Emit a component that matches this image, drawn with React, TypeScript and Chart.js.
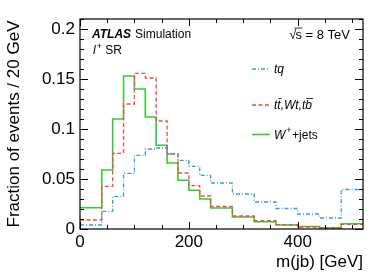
import React, { useEffect, useRef } from 'react';
import { Chart, registerables } from 'chart.js';
Chart.register(...registerables);

const binEdges = [0, 40, 60, 80, 100, 120, 140, 160, 180, 200, 220, 240, 280, 320, 360, 400, 440, 480, 520];
const tqValues = [0.004, 0.0177, 0.0327, 0.0557, 0.0737, 0.08, 0.081, 0.075, 0.0687, 0.0627, 0.0537, 0.046, 0.035, 0.027, 0.0205, 0.015, 0.011, 0.0395];
const ttbarValues = [0.009, 0.0427, 0.0757, 0.125, 0.1557, 0.151, 0.108, 0.075, 0.056, 0.0433, 0.033, 0.0225, 0.013, 0.0083, 0.0043, 0.002, 0.001, 0.0047];
const wjetsValues = [0.0213, 0.059, 0.11, 0.153, 0.14, 0.112, 0.0837, 0.066, 0.0487, 0.0387, 0.03, 0.021, 0.012, 0.0073, 0.004, 0.0025, 0.0012, 0.0053];
const yMajorTicks = [0, 0.05, 0.1, 0.15, 0.2];
const xMajorTicks = [0, 200, 400];
const xTitle = 'm(jb) [GeV]';
const yTitle = 'Fraction of events / 20 GeV';

const FONT = '"Liberation Sans", Arial, Helvetica, sans-serif';
const BLUE = '#3a9ad9';
const RED = '#ff4444';
const GREEN = '#33cc33';

function toSteps(vals: number[]) {
  return binEdges.map((e, i) => ({ x: e, y: vals[Math.min(i, vals.length - 1)] }));
}

const decorPlugin = {
  id: 'decor',
  afterDraw(chart: any) {
    const { ctx, chartArea: a, scales } = chart;
    const xs = scales.x;
    const ys = scales.y;
    ctx.save();
    ctx.strokeStyle = '#000';
    ctx.lineWidth = 1.2;
    ctx.strokeRect(a.left, a.top, a.right - a.left, a.bottom - a.top);
    ctx.lineWidth = 1;
    for (let v = 0; v <= 0.2101; v += 0.01) {
      const vv = Math.round(v * 100) / 100;
      const isMajor = yMajorTicks.some((m) => Math.abs(m - vv) < 1e-6);
      const len = isMajor ? 8 : 4;
      const y = Math.round(ys.getPixelForValue(vv)) + 0.5;
      ctx.beginPath();
      ctx.moveTo(a.left, y);
      ctx.lineTo(a.left + len, y);
      ctx.moveTo(a.right, y);
      ctx.lineTo(a.right - len, y);
      ctx.stroke();
    }
    for (let v = 0; v <= 520; v += 50) {
      const isMajor = xMajorTicks.includes(v);
      const len = isMajor ? 7 : 4;
      const x = Math.round(xs.getPixelForValue(v)) + 0.5;
      ctx.beginPath();
      ctx.moveTo(x, a.bottom);
      ctx.lineTo(x, a.bottom - len);
      ctx.moveTo(x, a.top);
      ctx.lineTo(x, a.top + len);
      ctx.stroke();
    }

    ctx.fillStyle = '#000';
    ctx.textBaseline = 'middle';
    ctx.textAlign = 'left';
    ctx.font = `bold italic 12px ${FONT}`;
    ctx.fillText('ATLAS', 92, 35);
    let w = ctx.measureText('ATLAS').width;
    ctx.font = `12px ${FONT}`;
    ctx.fillText('Simulation', 92 + w + 4, 35);

    ctx.font = `italic 12px ${FONT}`;
    ctx.fillText('l', 93, 51);
    w = ctx.measureText('l').width;
    ctx.font = `9px ${FONT}`;
    ctx.fillText('+', 93 + w + 1, 47);
    const wp = ctx.measureText('+').width;
    ctx.font = `12px ${FONT}`;
    ctx.fillText(' SR', 93 + w + 1 + wp, 51);

    ctx.font = `13px ${FONT}`;
    const rest = 's = 8 TeV';
    const restW = ctx.measureText(rest).width;
    const rx = 350 - restW;
    ctx.fillText(rest, rx, 35);
    const sW = ctx.measureText('s').width;
    const sqW = ctx.measureText('\u221A').width;
    ctx.fillText('\u221A', rx - sqW + 1, 35);
    ctx.beginPath();
    ctx.lineWidth = 0.8;
    ctx.moveTo(rx - 1, 28);
    ctx.lineTo(rx + sW + 0.5, 28);
    ctx.stroke();

    const lx1 = 252, lx2 = 270, tx = 274;
    const rows = [
      { y: 69, color: BLUE, dash: [4, 2, 1, 2] },
      { y: 105, color: RED, dash: [4, 2.5] },
      { y: 134.5, color: GREEN, dash: [] as number[] },
    ];
    rows.forEach((r) => {
      ctx.save();
      ctx.strokeStyle = r.color;
      ctx.lineWidth = r.dash.length ? 1.3 : 1.6;
      ctx.setLineDash(r.dash);
      ctx.beginPath();
      ctx.moveTo(lx1, r.y);
      ctx.lineTo(lx2, r.y);
      ctx.stroke();
      ctx.restore();
    });
    ctx.fillStyle = '#000';
    ctx.font = `italic 12px ${FONT}`;
    ctx.fillText('tq', tx, 70);

    const parts: [string, boolean][] = [['t', false], ['t', true], [',Wt,t', false], ['b', true]];
    let cx = tx;
    ctx.lineWidth = 0.8;
    ctx.strokeStyle = '#000';
    parts.forEach(([s, bar]) => {
      ctx.font = `italic 12px ${FONT}`;
      ctx.fillText(s, cx, 106);
      const pw = ctx.measureText(s).width;
      if (bar) {
        ctx.beginPath();
        ctx.moveTo(cx + 1, 98.5);
        ctx.lineTo(cx + pw + 1, 98.5);
        ctx.stroke();
      }
      cx += pw;
    });

    ctx.font = `italic 12px ${FONT}`;
    ctx.fillText('W', tx, 136);
    const ww = ctx.measureText('W').width;
    ctx.font = `9px ${FONT}`;
    ctx.fillText('+', tx + ww + 1, 131);
    const pw2 = ctx.measureText('+').width;
    ctx.font = `12px ${FONT}`;
    ctx.fillText('+jets', tx + ww + 1 + pw2 + 0.5, 136);

    ctx.restore();
  },
};

export default function App() {
  const ref = useRef<HTMLCanvasElement | null>(null);
  useEffect(() => {
    if (!ref.current) return;
    const chart = new Chart(ref.current, {
      type: 'line',
      data: {
        datasets: [
          {
            label: 'tq',
            data: toSteps(tqValues),
            borderColor: BLUE,
            borderWidth: 1.3,
            borderDash: [4, 2, 1, 2],
            stepped: 'before',
            pointRadius: 0,
            fill: false,
          },
          {
            label: 'ttbar,Wt,tb',
            data: toSteps(ttbarValues),
            borderColor: RED,
            borderWidth: 1.3,
            borderDash: [4, 2.5],
            stepped: 'before',
            pointRadius: 0,
            fill: false,
          },
          {
            label: 'W+jets',
            data: toSteps(wjetsValues),
            borderColor: GREEN,
            borderWidth: 1.6,
            stepped: 'before',
            pointRadius: 0,
            fill: false,
          },
        ],
      },
      options: {
        responsive: false,
        animation: false,
        devicePixelRatio: 1,
        layout: { padding: { left: 0, top: 19, right: 19, bottom: 0 } },
        plugins: { legend: { display: false }, tooltip: { enabled: false } },
        scales: {
          x: {
            type: 'linear',
            min: 0,
            max: 520,
            grid: { display: false, drawTicks: false },
            border: { display: false },
            ticks: {
              stepSize: 200,
              includeBounds: false,
              color: '#000',
              padding: 3,
              maxRotation: 0,
              font: { family: FONT, size: 17 },
              callback: (v: any) => String(v),
            },
            title: {
              display: true,
              text: xTitle,
              align: 'end',
              color: '#000',
              font: { family: FONT, size: 17 },
              padding: { top: 0, bottom: 1 },
            },
            afterFit: (s: any) => {
              s.height = 45;
            },
          },
          y: {
            type: 'linear',
            min: 0,
            max: 0.21,
            grid: { display: false, drawTicks: false },
            border: { display: false },
            ticks: {
              stepSize: 0.05,
              includeBounds: false,
              color: '#000',
              padding: 5,
              font: { family: FONT, size: 17 },
              callback: (v: any) => String(Math.round(v * 100) / 100),
            },
            title: {
              display: true,
              text: yTitle,
              color: '#000',
              font: { family: FONT, size: 17 },
              padding: { top: 4, bottom: 0 },
            },
            afterFit: (s: any) => {
              s.width = 80;
            },
          },
        },
      },
      plugins: [decorPlugin],
    });
    return () => chart.destroy();
  }, []);
  return (
    <div style={{ position: 'fixed', left: 0, top: 0, width: 382, height: 274, background: '#fff' }}>
      <canvas ref={ref} width={382} height={274} style={{ display: 'block' }} />
    </div>
  );
}
